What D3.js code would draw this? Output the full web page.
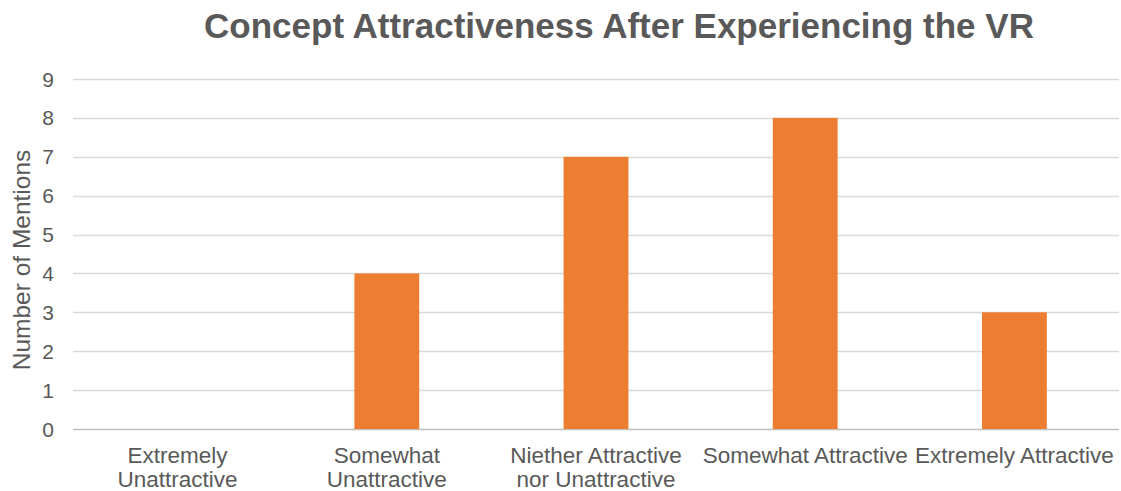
<!DOCTYPE html>
<html>
<head>
<meta charset="utf-8">
<script src="https://cdn.jsdelivr.net/npm/d3@7"></script>
<style>
  html, body { margin: 0; padding: 0; background: #fff; }
  svg { display: block; font-family: "Liberation Sans", Arial, sans-serif; }
</style>
</head>
<body>
<svg id="chart" width="1121" height="491"></svg>
<script>
// Chart data
const categories = [
  "Extremely Unattractive",
  "Somewhat Unattractive",
  "Niether Attractive nor Unattractive",
  "Somewhat Attractive",
  "Extremely Attractive"
];
// Wrapped label lines per category
const categoryLines = [
  ["Extremely", "Unattractive"],
  ["Somewhat", "Unattractive"],
  ["Niether Attractive", "nor Unattractive"],
  ["Somewhat Attractive"],
  ["Extremely Attractive"]
];
const mentions = [0, 4, 7, 8, 3];
const yTicks = [0, 1, 2, 3, 4, 5, 6, 7, 8, 9];

const chartTitle = "Concept Attractiveness After Experiencing the VR";
const yTitle = "Number of Mentions";

const svg = d3.select("#chart");
const margin = { left: 73, right: 2, top: 79, bottom: 62 };
const W = 1121, H = 491;

const x = d3.scaleBand()
  .domain(categories)
  .range([margin.left, W - margin.right])
  .paddingInner(0.69)
  .paddingOuter(0.345);

const y = d3.scaleLinear()
  .domain([0, 9])
  .range([H - margin.bottom, margin.top]);

const textColor = "#595959";

// Horizontal gridlines
svg.append("g")
  .selectAll("line")
  .data(yTicks)
  .join("line")
  .attr("x1", margin.left)
  .attr("x2", W - margin.right)
  .attr("y1", d => Math.round(y(d)) + 0.5)
  .attr("y2", d => Math.round(y(d)) + 0.5)
  .attr("stroke", d => d === 0 ? "#bfbfbf" : "#d9d9d9")
  .attr("stroke-width", 1.5);

// Y axis tick labels
svg.append("g")
  .selectAll("text")
  .data(yTicks)
  .join("text")
  .attr("x", 54)
  .attr("y", d => y(d))
  .attr("dy", "0.36em")
  .attr("text-anchor", "end")
  .attr("fill", textColor)
  .attr("font-size", 21)
  .text(d => d);

// Bars
svg.append("g")
  .selectAll("rect")
  .data(mentions)
  .join("rect")
  .attr("x", (d, i) => x(categories[i]))
  .attr("y", d => y(d))
  .attr("width", x.bandwidth())
  .attr("height", d => y(0) - y(d))
  .attr("fill", "#ED7D31");

// Category labels
const labels = svg.append("g")
  .selectAll("text")
  .data(categories)
  .join("text")
  .attr("text-anchor", "middle")
  .attr("fill", textColor)
  .attr("font-size", 22.5)
  .attr("x", d => x(d) + x.bandwidth() / 2);

labels.each(function (d, i) {
  const t = d3.select(this);
  categoryLines[i].forEach((line, j) => {
    t.append("tspan")
      .attr("x", x(d) + x.bandwidth() / 2)
      .attr("y", 463 + j * 24)
      .text(line);
  });
});

// Y axis title
svg.append("text")
  .attr("transform", "translate(30, 260) rotate(-90)")
  .attr("text-anchor", "middle")
  .attr("fill", textColor)
  .attr("font-size", 24.5)
  .text(yTitle);

// Chart title
svg.append("text")
  .attr("x", 619)
  .attr("y", 38)
  .attr("text-anchor", "middle")
  .attr("fill", textColor)
  .attr("font-size", 35)
  .attr("font-weight", "bold")
  .text(chartTitle);
</script>
</body>
</html>
